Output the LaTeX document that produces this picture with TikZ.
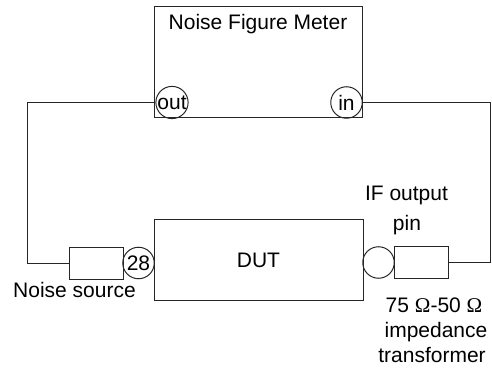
\documentclass[tikz,border=0pt]{standalone}
\usepackage{fontspec}
\setmainfont{Liberation Sans}
\newfontfamily\omfont{Liberation Serif}
\begin{document}
\begin{tikzpicture}[x=1pt,y=-1pt,
  font=\fontsize{21}{25}\selectfont,
  wire/.style={draw=black!85, line width=1pt},
  blk/.style={draw=black!85, line width=1pt, inner sep=0pt},
  port/.style={circle, draw=black!85, line width=1pt, minimum size=31.5pt, inner sep=0pt},
  lbl/.style={anchor=base, inner sep=0pt}]
\useasboundingbox (0,0) rectangle (492,379);
% boxes
\node[blk, minimum width=208pt, minimum height=111pt] (nfm) at (258,62.5) {};
\node[blk, minimum width=209pt, minimum height=80pt] (dut) at (258.5,260) {DUT};
\node[blk, minimum width=54pt, minimum height=32pt] (ns) at (96,263) {};
\node[blk, minimum width=54pt, minimum height=32pt] (tr) at (421.3,262.5) {};
% ports
\node[port] (out) at (172,102.5) {out};
\node[port] (in) at (346.5,102.5) {in};
\node[port] (p28) at (138.5,263) {28};
\node[port] (pif) at (378.5,262.5) {};
% texts
\node[lbl] (title) at (258,30) {Noise Figure Meter};
\node[lbl] (nslbl) at (74.5,297) {Noise source};
\node[lbl] (if1) at (406.5,201) {IF output};
\node[lbl] (if2) at (407,230) {pin};
\node[lbl] (tr1) at (434,312) {75 {\omfont Ω}-50 {\omfont Ω}};
\node[lbl] (tr2) at (436,337) {impedance};
\node[lbl] (tr3) at (432,362) {transformer};
% wires
\coordinate (lt) at (27,102.5);
\coordinate (lb) at (27,263);
\coordinate (rt) at (490,102.5);
\coordinate (rb) at (490,262.5);
\draw[wire] (out.west) -- (lt) -- (lb) -- (ns.west);
\draw[wire] (in.east) -- (rt) -- (rb) -- (tr.east);
\end{tikzpicture}
\end{document}
